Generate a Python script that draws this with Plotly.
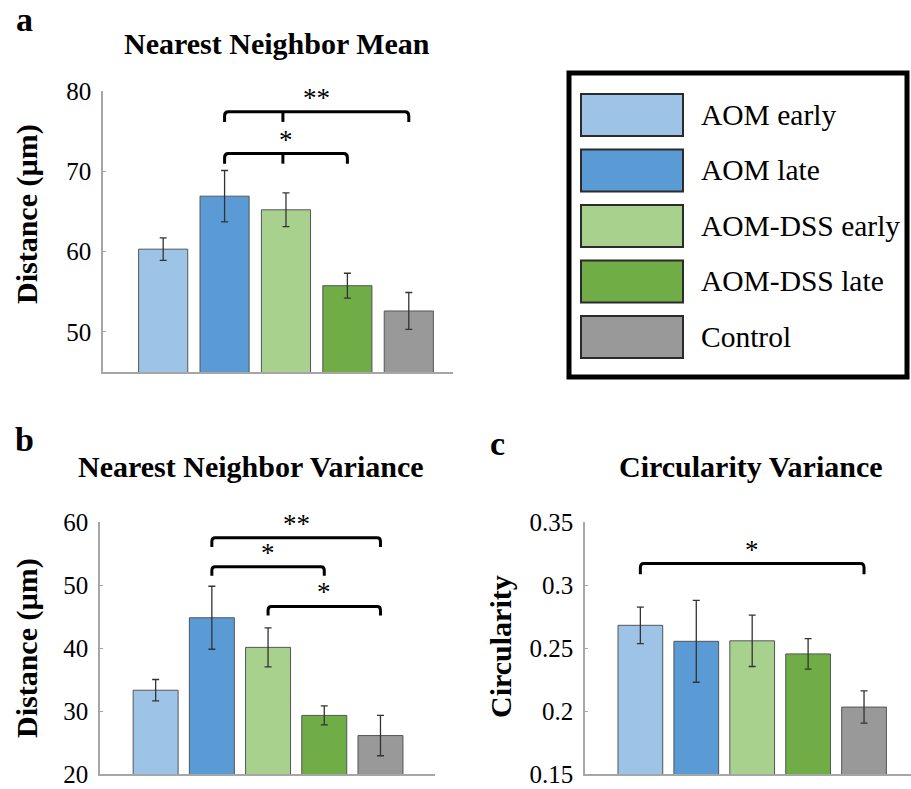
import plotly.graph_objects as go

W, H = 911, 789

groups = ["AOM early", "AOM late", "AOM-DSS early", "AOM-DSS late", "Control"]
colors = ["#9DC3E6", "#5B9BD5", "#A9D18E", "#70AD47", "#999999"]

nn_mean = [60.3, 66.9, 65.2, 55.75, 52.6]
nn_mean_err = [1.4, 3.2, 2.1, 1.55, 2.3]
nn_var = [33.3, 44.8, 40.1, 29.3, 26.1]
nn_var_err = [1.7, 5.0, 3.1, 1.5, 3.2]
circ_var = [0.268, 0.2553, 0.2557, 0.2453, 0.2031]
circ_var_err = [0.0145, 0.0325, 0.0204, 0.0121, 0.0128]

# significance brackets: (start group, end group, bar level, label, centre tick position or None)
brackets_a = [(1, 4, 77.4, "**", 1.95), (1, 3, 72.2, "*", 1.95)]
brackets_b = [(1, 4, 57.5, "**", None), (1, 3, 52.9, "*", None), (2, 4, 46.6, "*", None)]
brackets_c = [(0, 4, 0.317, "*", None)]

y_ticks_a = [50, 60, 70, 80]
y_ticks_b = [20, 30, 40, 50, 60]
y_ticks_c = [0.15, 0.2, 0.25, 0.3, 0.35]
y_tick_text_c = ["0.15", "0.2", "0.25", "0.3", "0.35"]

FONT = "Liberation Serif"


def px(x):
    return x / W


def py(y):
    return 1 - y / H


fig = go.Figure()

panels = [
    dict(ax="", vals=nn_mean, err=nn_mean_err, dom_x=(103, 453), dom_y=(91, 372),
         yr=[45, 80], xr=[-0.98, 4.72], ticks=y_ticks_a, ticktext=None,
         brackets=brackets_a, tip=1.25, round_y=0.5),
    dict(ax="2", vals=nn_var, err=nn_var_err, dom_x=(100, 435), dom_y=(522, 774),
         yr=[20, 60], xr=[-0.99, 4.97], ticks=y_ticks_b, ticktext=None,
         brackets=brackets_b, tip=1.45, round_y=0.6),
    dict(ax="3", vals=circ_var, err=circ_var_err, dom_x=(585, 911), dom_y=(522, 774),
         yr=[0.15, 0.35], xr=[-0.99, 4.84], ticks=y_ticks_c, ticktext=y_tick_text_c,
         brackets=brackets_c, tip=0.0085, round_y=0.0035),
]

shapes = []
annotations = []

for p in panels:
    xa = "x" + p["ax"]
    ya = "y" + p["ax"]
    fig.add_trace(go.Bar(
        x=list(range(len(groups))), y=p["vals"],
        marker=dict(color=colors, line=dict(color="#555555", width=1)),
        width=0.8,
        error_y=dict(type="data", array=p["err"], visible=True,
                     color="#333333", thickness=1.3, width=3.5),
        xaxis=xa, yaxis=ya, showlegend=False, hoverinfo="skip",
    ))
    axkey = "xaxis" + p["ax"]
    aykey = "yaxis" + p["ax"]
    fig.update_layout(**{
        axkey: dict(domain=[px(p["dom_x"][0]), px(p["dom_x"][1])], range=p["xr"],
                    showline=True, linecolor="#a6a6a6", linewidth=1.5,
                    showticklabels=False, ticks="", showgrid=False, zeroline=False,
                    anchor=ya, fixedrange=True, automargin=False),
        aykey: dict(domain=[py(p["dom_y"][1]), py(p["dom_y"][0])], range=p["yr"],
                    showline=True, linecolor="#a6a6a6", linewidth=1.5,
                    ticks="inside", ticklen=3, tickcolor="#a6a6a6",
                    tickvals=p["ticks"], ticktext=p["ticktext"],
                    tickfont=dict(family=FONT, size=25, color="black"),
                    ticklabelstandoff=5, ticklabeloverflow="allow", automargin=False,
                    showgrid=False, zeroline=False, anchor=xa, fixedrange=True),
    })
    rx = 0.06
    for (i, j, lvl, lab, tick) in p["brackets"]:
        t = p["tip"]
        r = p["round_y"]
        path = (f"M {i},{lvl - t} L {i},{lvl - r} Q {i},{lvl} {i + rx},{lvl} "
                f"L {j - rx},{lvl} Q {j},{lvl} {j},{lvl - r} L {j},{lvl - t}")
        shapes.append(dict(type="path", path=path, xref=xa, yref=ya,
                           line=dict(color="black", width=3)))
        if tick is not None:
            shapes.append(dict(type="line", x0=tick, x1=tick, y0=lvl, y1=lvl - t,
                               xref=xa, yref=ya, line=dict(color="black", width=3)))
        annotations.append(dict(x=(i + j) / 2, y=lvl, xref=xa, yref=ya, yshift=-3,
                                text=lab, showarrow=False, yanchor="bottom",
                                font=dict(family=FONT, size=27, color="black")))

# titles and panel letters
titles = [("Nearest Neighbor Mean", 277, 43), ("Nearest Neighbor Variance", 251, 466),
          ("Circularity Variance", 751, 466)]
for txt, x, y in titles:
    annotations.append(dict(x=px(x), y=py(y), xref="paper", yref="paper", text=f"<b>{txt}</b>",
                            showarrow=False, xanchor="center", yanchor="middle",
                            font=dict(family=FONT, size=30, color="black")))

letters = [("a", 24, 20), ("b", 24, 440), ("c", 497, 443)]
for txt, x, y in letters:
    annotations.append(dict(x=px(x), y=py(y), xref="paper", yref="paper", text=f"<b>{txt}</b>",
                            showarrow=False, xanchor="center", yanchor="middle",
                            font=dict(family=FONT, size=34, color="black")))

ytitles = [("Distance (µm)", 27, 214), ("Distance (µm)", 27, 648), ("Circularity", 500, 647)]
for txt, x, y in ytitles:
    annotations.append(dict(x=px(x), y=py(y), xref="paper", yref="paper", text=f"<b>{txt}</b>",
                            showarrow=False, xanchor="center", yanchor="middle", textangle=-90,
                            font=dict(family=FONT, size=30, color="black")))

# legend key
shapes.append(dict(type="rect", xref="paper", yref="paper",
                   x0=px(569), x1=px(907), y0=py(377), y1=py(73),
                   line=dict(color="black", width=5), fillcolor="rgba(0,0,0,0)"))
row0, pitch, sh = 94, 55.5, 42
for k, (g, c) in enumerate(zip(groups, colors)):
    top = row0 + k * pitch
    shapes.append(dict(type="rect", xref="paper", yref="paper",
                       x0=px(581), x1=px(683), y0=py(top + sh), y1=py(top),
                       line=dict(color="#2b2b2b", width=2), fillcolor=c))
    annotations.append(dict(x=px(699), y=py(top + sh / 2), xref="paper", yref="paper",
                            text=g, showarrow=False, xanchor="left", yanchor="middle",
                            font=dict(family=FONT, size=29.5, color="black")))

fig.update_layout(width=W, height=H, autosize=False,
                  margin=dict(l=0, r=0, t=0, b=0, autoexpand=False),
                  paper_bgcolor="white", plot_bgcolor="white",
                  font=dict(family=FONT, color="black"),
                  shapes=shapes, annotations=annotations, bargap=0.2)

fig.write_html("out.html", config={"displayModeBar": False},
               post_script="document.body.style.margin='0';")
